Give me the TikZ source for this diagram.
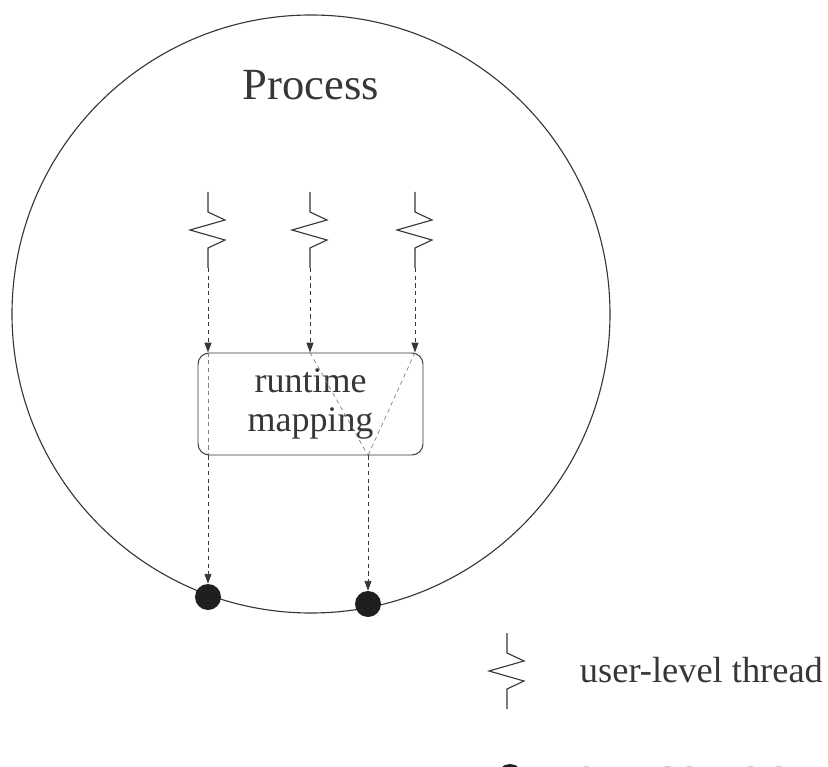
\documentclass[tikz,border=0pt]{standalone}
\usepackage{fontspec}
\setmainfont{Liberation Serif}
\usetikzlibrary{arrows.meta,positioning}
\definecolor{inkgray}{RGB}{55,55,55}

\tikzset{
    thread/.pic={
        \draw[line width=0.8pt, inkgray] (0,0) -- (0,-0.5) -- (0.425,-0.7) -- (-0.45,-0.95)
            -- (0.425,-1.2) -- (0,-1.4) -- (0,-1.9);
        \coordinate (-end) at (0,-1.9);
    }
}

\begin{document}
\begin{tikzpicture}[
    dot/.style={circle, fill=black!88, minimum size=0.65cm, inner sep=0pt},
    lbl/.style={font=\fontsize{25.9}{28}\selectfont, inkgray},
    box/.style={draw, inkgray, line width=0.7pt, rounded corners=8pt, minimum width=5.625cm,
        minimum height=2.55cm, align=center, inner sep=0pt, font=\fontsize{25.6}{27.5}\selectfont},
    link/.style={dashed, dash pattern=on 3pt off 2.5pt, line width=0.6pt, inkgray,
        -{Triangle[length=7pt,width=5pt]}},
    mapline/.style={dashed, dash pattern=on 3pt off 2.5pt, line width=0.5pt, gray}
]
\useasboundingbox (0,0) rectangle (20.7,-19.175);
\clip (0,0) rectangle (20.7,-19.175);

% Process
\node[circle, draw, inkgray, line width=0.8pt, minimum size=14.95cm, inner sep=0pt] (proc) at (7.775,-7.85) {};
\node[font=\fontsize{31.7}{34}\selectfont, inkgray] (ptitle) at (7.775,-2.125) {Process};

% user-level threads
\pic (t1) at (5.2,-4.8) {thread};
\pic (t2) at (7.75,-4.8) {thread};
\pic (t3) at (10.375,-4.8) {thread};

\node[box] (map) at (7.7625,-10.1) {runtime\\mapping};

% kernel-level threads
\node[dot] (d1) at (5.2,-14.925) {};
\node[dot] (d2) at (9.2,-15.1) {};

% Arrows
\draw[link] (t1-end) -- (t1-end |- map.north);
\draw[link] (t2-end) -- (t2-end |- map.north);
\draw[link] (t3-end) -- (t3-end |- map.north);

\coordinate (jn) at (d2 |- map.south);
\draw[mapline] (t1-end |- map.north) -- (t1-end |- map.south);
\draw[mapline] (t2-end |- map.north) -- (jn);
\draw[mapline] (t3-end |- map.north) -- (jn);

\draw[link] (t1-end |- map.south) -- (d1);
\draw[link] (jn) -- (d2);

% Legend
\pic (key) at (12.675,-15.825) {thread};
\node[lbl, anchor=base west] (keytxt) at (14.375,-17.05) {user-level thread};
\node[dot] (keydot) at (12.75,-19.425) {};
\node[lbl, anchor=base west] (keydottxt) at (14.45,-19.8) {kernel-level thread};
\end{tikzpicture}
\end{document}
